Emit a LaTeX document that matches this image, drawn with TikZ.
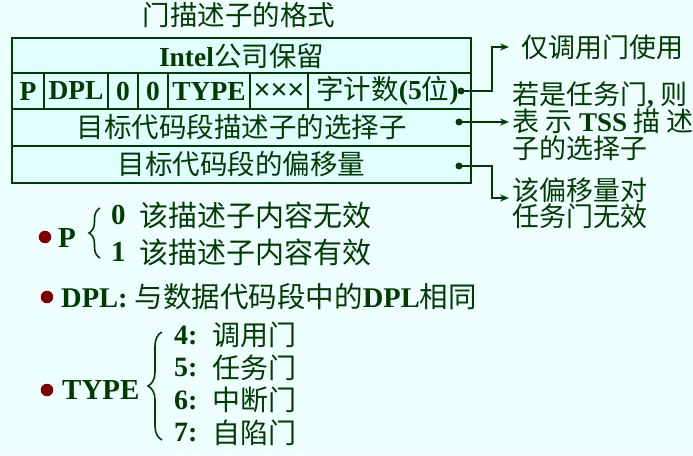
\documentclass[tikz,border=0pt]{standalone}
\usepackage{fontspec}
\setmainfont{Liberation Serif}
\newfontfamily\cjk{Noto Sans CJK SC}
\newfontfamily\lsans{Liberation Sans}
\usetikzlibrary{arrows.meta,decorations.pathreplacing}
\definecolor{bgc}{RGB}{238,255,255}
\definecolor{cellc}{RGB}{224,255,255}
\definecolor{ink}{RGB}{0,60,0}
\definecolor{dotc}{RGB}{128,0,0}
\newcommand\zh[1]{{\cjk\mdseries #1}}
\begin{document}
\begin{tikzpicture}[x=1pt,y=-1pt,
  every node/.style={text=ink, font=\fontsize{27.5}{30}\selectfont\bfseries, inner sep=0pt},
  cell/.style={draw=ink, line width=2pt, fill=cellc, minimum height=36pt, anchor=north west},
  side/.style={anchor=west, align=left, font=\fontsize{27}{27}\selectfont\bfseries},
  conn/.style={draw=ink, line width=2pt, -{Stealth[length=9pt,width=7pt]}},
  bul/.style={circle, fill=dotc, minimum size=12.5pt},
  curly/.style={draw=ink, line width=1.6pt, decorate},
  pin/.style={circle, fill=ink, minimum size=7pt},
  big/.style={anchor=west, font=\fontsize{29}{30}\selectfont\bfseries},
  mid/.style={anchor=west, font=\fontsize{28}{30}\selectfont\bfseries}]
\fill[bgc] (0,0) rectangle (693,455);
\useasboundingbox (0,0) rectangle (693,455);

% title
\node (title) at (239,15) {\zh{门描述子的格式}};

% table
\node[cell, minimum width=459pt] (r1) at (11,37) {Intel\zh{公司保留}};
\node[cell, minimum width=32pt] (cp) at (11,72) {P};
\node[cell, minimum width=64pt] (cdpl) at (43,72) {DPL};
\node[cell, minimum width=30pt] (cz1) at (107,72) {0};
\node[cell, minimum width=30pt] (cz2) at (137,72) {0};
\node[cell, minimum width=82pt] (cty) at (167,72) {TYPE};
\node[cell, minimum width=58pt] (cxx) at (249,72) {\raisebox{-1pt}{\lsans\mdseries\fontsize{29}{30}\selectfont ×××}};
\node[cell, minimum width=163pt] (cwc) at (307,72) {\hspace{-4pt}\zh{字计数}(5\zh{位})};
\node[cell, minimum width=459pt, minimum height=37pt] (r3) at (11,108) {\zh{目标代码段描述子的选择子}};
\node[cell, minimum width=459pt, minimum height=37pt] (r4) at (11,145) {\zh{目标代码段的偏移量}};

% pins
\node[pin] (d1) at (461,91) {};
\node[pin] (d2) at (459,122) {};
\node[pin] (d3) at (459,166) {};

% side notes
\node[side] (t1) at (521,47) {\zh{仅调用门使用}};
\node[side] (t2) at (512,121) {\zh{若是任务门}, \zh{则}\\\zh{表 示} TSS \zh{描 述}\\\zh{子的选择子}};
\node[side, font=\fontsize{27}{26}\selectfont\bfseries] (t3) at (512,203) {\zh{该偏移量对}\\\zh{任务门无效}};

\draw[conn] (d1.center) -- (492,91) |- ([xshift=-12pt]t1.west);
\draw[conn] (d2.center) -- ([xshift=-3pt]d2.center -| t2.west);
\draw[conn] (d3.center) -- (492,166) |- ([yshift=5pt,xshift=-3pt]t3.west);

% P
\node[bul] (b1) at (45,237) {};
\node[big] (pl) at (58,238) {P};
\draw[curly, decoration={brace, amplitude=11pt}] (100,258) -- (100,208);
\node[big] (p0) at (111,215) {0};
\node[big] (p0t) at (139,215) {\zh{该描述子内容无效}};
\node[big] (p1) at (111,252) {1};
\node[big] (p1t) at (139,252) {\zh{该描述子内容有效}};

% DPL
\node[bul] (b2) at (47,297) {};
\node[anchor=west, font=\fontsize{28.5}{30}\selectfont\bfseries] (dpl) at (61,297) {DPL: \zh{与数据代码段中的}DPL\zh{相同}};

% TYPE
\node[bul] (b3) at (47,390) {};
\node[big] (tl) at (62,390) {TYPE};
\draw[curly, decoration={brace, amplitude=14pt}] (162,440) -- (162,332);
\node[mid] (n4) at (174,335) {4:};
\node[mid] (n4t) at (212,335) {\zh{调用门}};
\node[mid] (n5) at (174,368) {5:};
\node[mid] (n5t) at (212,368) {\zh{任务门}};
\node[mid] (n6) at (174,400) {6:};
\node[mid] (n6t) at (212,400) {\zh{中断门}};
\node[mid] (n7) at (174,433) {7:};
\node[mid] (n7t) at (212,433) {\zh{自陷门}};
\end{tikzpicture}
\end{document}
